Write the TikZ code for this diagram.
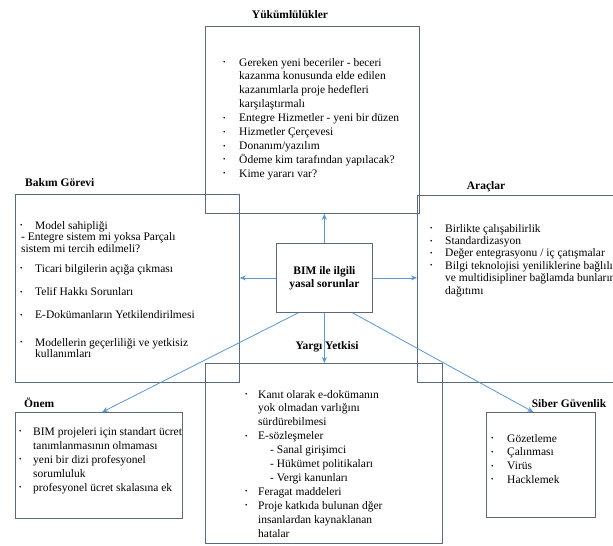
\documentclass[tikz,border=0pt]{standalone}
\usepackage{fontspec}
\setmainfont{Liberation Serif}
\usetikzlibrary{arrows.meta,calc}
\definecolor{boxline}{RGB}{90,106,122}
\definecolor{arrowblue}{RGB}{91,150,205}
\newcommand{\blt}{\raisebox{0.25ex}{\fontsize{7}{7}\selectfont\textbullet}}
\begin{document}
\begin{tikzpicture}[x=1pt,y=-1pt,
  panel/.style={draw=boxline, line width=0.8pt, rectangle, inner sep=0pt, anchor=north west},
  title/.style={font=\fontsize{11.5}{13}\selectfont\bfseries, inner sep=0pt},
  listtext/.style={inner sep=0pt, anchor=base west},
  conn/.style={draw=arrowblue, line width=0.8pt, -{Stealth[length=6pt,width=5pt]}},
]
\useasboundingbox (0,0) rectangle (613,546);
\clip (0,0) rectangle (613,546);

% panels
\node[panel, minimum width=214pt, minimum height=187pt] (yuk) at (205,26) {};
\node[panel, minimum width=224pt, minimum height=188pt] (bak) at (15,194) {};
\node[panel, minimum width=220pt, minimum height=187pt] (arac) at (417,195) {};
\node[panel, minimum width=237pt, minimum height=180pt] (yarg) at (205,363) {};
\node[panel, minimum width=167pt, minimum height=106pt] (onem) at (15,412) {};
\node[panel, minimum width=109pt, minimum height=105pt] (siber) at (486,412) {};
\node[panel, minimum width=96pt, minimum height=69pt, align=center,
      font=\fontsize{11.5}{13}\selectfont\bfseries] (center) at (276,243)
      {BIM ile ilgili\\yasal sorunlar};

% titles
\node[title] (tyuk) at (290,15) {Yükümlülükler};
\node[title, anchor=west] (tbak) at (25,183) {Bakım Görevi};
\node[title] (tarac) at (486,187) {Araçlar};
\node[title] (tyarg) at (327,347) {Yargı Yetkisi};
\node[title, anchor=west] (tonem) at (24,403) {Önem};
\node[title] (tsiber) at (569,404) {Siber Güvenlik};

% lists
\node[listtext, font=\fontsize{11.5}{13.9}\selectfont] (lyuk) at (223,66) {%
\begin{tabular}[t]{@{}p{16pt}@{}l@{}}
\blt & Gereken yeni beceriler - beceri\\
 & kazanma konusunda elde edilen\\
 & kazanımlarla proje hedefleri\\
 & karşılaştırmalı\\
\blt & Entegre Hizmetler - yeni bir düzen\\
\blt & Hizmetler Çerçevesi\\
\blt & Donanım/yazılım\\
\blt & Ödeme kim tarafından yapılacak?\\
\blt & Kime yararı var?
\end{tabular}};

\node[listtext, font=\fontsize{11.5}{11.7}\selectfont] (lbak) at (20,229) {%
\begin{tabular}[t]{@{}p{15pt}@{}l@{}}
\blt & Model sahipliği\\
\multicolumn{2}{@{}l@{}}{\hspace{1pt}- Entegre sistem mi yoksa Parçalı}\\
\multicolumn{2}{@{}l@{}}{\hspace{1pt}sistem mi tercih edilmeli?}\\[8pt]
\blt & Ticari bilgilerin açığa çıkması\\[12pt]
\blt & Telif Hakkı Sorunları\\[11pt]
\blt & E-Dokümanların Yetkilendirilmesi\\[16pt]
\blt & Modellerin geçerliliği ve yetkisiz\\
 & kullanımları
\end{tabular}};

\node[listtext, font=\fontsize{11.5}{12.4}\selectfont] (larac) at (430,232) {%
\begin{tabular}[t]{@{}p{15pt}@{}l@{}}
\blt & Birlikte çalışabilirlik\\
\blt & Standardizasyon\\
\blt & Değer entegrasyonu / iç çatışmalar\\
\blt & Bilgi teknolojisi yeniliklerine bağlılık\\
 & ve multidisipliner bağlamda bunların\\
 & dağıtımı
\end{tabular}};

\node[listtext, font=\fontsize{11.5}{13.9}\selectfont] (lyarg) at (245,398) {%
\begin{tabular}[t]{@{}p{13pt}@{}l@{}}
\blt & Kanıt olarak e-dokümanın\\
 & yok olmadan varlığını\\
 & sürdürebilmesi\\
\blt & E-sözleşmeler\\
 & \hspace{12pt}- Sanal girişimci\\
 & \hspace{12pt}- Hükümet politikaları\\
 & \hspace{12pt}- Vergi kanunları\\
\blt & Feragat maddeleri\\
\blt & Proje katkıda bulunan dğer\\
 & insanlardan kaynaklanan\\
 & hatalar
\end{tabular}};

\node[listtext, font=\fontsize{11.5}{14}\selectfont] (lonem) at (19,435) {%
\begin{tabular}[t]{@{}p{14pt}@{}l@{}}
\blt & BIM projeleri için standart ücret\\
 & tanımlanmasının olmaması\\
\blt & yeni bir dizi profesyonel\\
 & sorumluluk\\
\blt & profesyonel ücret skalasına ek
\end{tabular}};

\node[listtext, font=\fontsize{11.5}{13.7}\selectfont] (lsiber) at (491,442) {%
\begin{tabular}[t]{@{}p{16pt}@{}l@{}}
\blt & Gözetleme\\
\blt & Çalınması\\
\blt & Virüs\\
\blt & Hacklemek
\end{tabular}};

% connectors
\coordinate (dl0) at ($(center.south west)!0.23!(center.south east)$);
\coordinate (dl1) at ($(onem.north west)!0.52!(onem.north east)$);
\coordinate (dr0) at ($(center.south west)!0.79!(center.south east)$);
\coordinate (dr1) at ($(siber.north west)!0.43!(siber.north east)$);
\draw[conn] (center.north) -- (center.north |- yuk.south);
\draw[conn] (center.west) -- (center.west -| bak.east);
\draw[conn] (center.east) -- (center.east -| arac.west);
\draw[conn] (center.south) -- (center.south |- yarg.north);
\draw[conn] (dl0) -- (dl1);
\draw[conn] (dr0) -- (dr1);
\end{tikzpicture}
\end{document}
